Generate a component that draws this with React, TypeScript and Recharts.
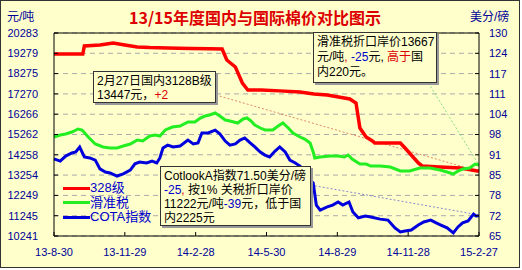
import React from "react";
import { LineChart, Line, XAxis, YAxis, CartesianGrid, ReferenceLine } from "recharts";

// x = days since 2013-8-30
const dayTicks = [0, 91, 182, 273, 364, 455, 546];
const dayLabels = ["13-8-30", "13-11-29", "14-2-28", "14-5-30", "14-8-29", "14-11-28", "15-2-27"];
const leftTicks = [10241, 11245, 12249, 13254, 14258, 15262, 16266, 17270, 18275, 19279, 20283];
const rightTicks = [65, 71.5, 78, 84.5, 91, 97.5, 104, 110.5, 117, 123.5, 130];

const seriesNames = ["328级", "滑准税", "COTA指数"];
const seriesColors = ["#ff0000", "#22ee22", "#0000dd"];

// 328级 (元/吨)
const redDays = [0, 37, 39, 59, 76, 91, 107, 123, 146, 175, 200, 216, 222, 233, 242, 249, 266, 290, 316, 334, 351, 380, 388, 393, 401, 409, 412, 445, 451, 459, 468, 473, 496, 522, 546];
const redPrices = [19244, 19244, 19640, 19689, 19788, 19690, 19590, 19560, 19541, 19520, 19500, 19491, 18947, 18601, 17810, 17463, 17463, 17420, 17364, 17265, 17216, 17018, 16820, 15584, 15138, 14941, 14842, 14842, 14594, 14248, 13852, 13704, 13654, 13605, 13447];

// 滑准税 (元/吨)
const greenDays = [0, 8, 15, 23, 31, 36, 44, 53, 63, 72, 81, 89, 98, 107, 114, 123, 130, 136, 143, 152, 162, 172, 181, 188, 194, 200, 207, 213, 220, 226, 236, 243, 248, 253, 258, 265, 271, 281, 288, 294, 301, 307, 316, 322, 329, 333, 335, 342, 355, 365, 373, 378, 383, 393, 401, 407, 419, 432, 445, 457, 470, 483, 496, 505, 513, 519, 525, 534, 541, 546];
const greenPrices = [15138, 15237, 15287, 15386, 15534, 15485, 15138, 14792, 14643, 14594, 14594, 14693, 14792, 14990, 14941, 15188, 15237, 15188, 15485, 15633, 15682, 15880, 15880, 16078, 16177, 16227, 16325, 16177, 15979, 15930, 15831, 16029, 16078, 15930, 15732, 15583, 15485, 15485, 15682, 15831, 15583, 15336, 15138, 15039, 14841, 14396, 14099, 14149, 14198, 14198, 14149, 14248, 14050, 13802, 13802, 13703, 13703, 13654, 13456, 13456, 13605, 13605, 13506, 13407, 13308, 13456, 13555, 13605, 13802, 13750];

// COTA指数 (美分/磅)
const blueDays = [0, 8, 15, 23, 28, 33, 39, 46, 53, 59, 66, 72, 81, 89, 98, 104, 110, 119, 126, 132, 136, 140, 146, 153, 162, 172, 179, 185, 190, 198, 207, 213, 220, 226, 233, 239, 245, 252, 258, 265, 271, 277, 284, 290, 297, 303, 310, 316, 322, 329, 333, 337, 342, 351, 358, 365, 371, 379, 384, 391, 400, 407, 419, 429, 438, 445, 451, 459, 468, 475, 484, 491, 497, 505, 513, 519, 525, 532, 539, 542, 546];
const blueIndex = [89.7, 89.0, 90.6, 91.6, 91.9, 93.5, 90.3, 90.0, 89.3, 86.5, 85.5, 85.2, 84.2, 84.9, 86.1, 88.1, 88.7, 88.4, 89.0, 88.4, 90.0, 93.2, 94.1, 93.5, 93.8, 95.7, 94.5, 94.8, 98.0, 98.0, 98.9, 97.7, 95.4, 94.1, 94.5, 95.7, 96.4, 94.8, 93.5, 91.9, 90.9, 90.3, 92.2, 93.5, 91.9, 89.3, 88.4, 87.4, 85.5, 82.9, 82.0, 74.9, 73.3, 74.3, 74.9, 75.9, 74.9, 75.9, 72.7, 70.8, 71.4, 71.1, 70.4, 70.1, 67.6, 66.3, 66.6, 66.9, 68.5, 69.5, 70.1, 69.2, 68.5, 67.6, 66.0, 67.9, 69.2, 69.8, 72.0, 71.4, 71.5];

const redData = redDays.map((d, i) => ({ day: d, v: redPrices[i] }));
const greenData = greenDays.map((d, i) => ({ day: d, v: greenPrices[i] }));
const blueData = blueDays.map((d, i) => ({ day: d, v: blueIndex[i] }));

const BG = "#ffffcc";
const AXIS_BLUE = "#000099";
const FONT = "'Liberation Sans', Arial, sans-serif";
const cjk = "'Liberation Sans', 'Noto Sans CJK SC', sans-serif";

// tick labels with the short tick mark drawn inside the plot
const LeftTick = ({ x, y, payload }: any) => (
  <g>
    <line x1={x + 16} x2={x + 20} y1={y} y2={y} stroke="#000" />
    <text x={x} y={y} dy="0.355em" textAnchor="end" fontFamily={FONT} fontSize={11} fill={AXIS_BLUE}>
      {payload.value}
    </text>
  </g>
);

const RightTick = ({ x, y, payload }: any) => (
  <g>
    <line x1={x - 10} x2={x - 14} y1={y} y2={y} stroke="#000" />
    <text x={x} y={y} dy="0.355em" textAnchor="start" fontFamily={FONT} fontSize={11} fill={AXIS_BLUE}>
      {Math.round(payload.value)}
    </text>
  </g>
);

const BottomTick = ({ x, y, payload }: any) => (
  <g>
    <line x1={x} x2={x} y1={y - 12} y2={y - 16} stroke="#000" />
    <text x={x} y={y} dy="0.71em" textAnchor="middle" fontFamily={FONT} fontSize={11} fill={AXIS_BLUE}>
      {dayLabels[dayTicks.indexOf(payload.value)] ?? ""}
    </text>
  </g>
);

const boxStyle: React.CSSProperties = {
  position: "absolute",
  background: BG,
  border: "1px solid #333",
  boxShadow: "2px 2px 0 #999",
  fontFamily: cjk,
  fontSize: 12,
  color: "#000",
  boxSizing: "border-box",
  padding: "2px 3px",
  zIndex: 2,
  whiteSpace: "nowrap",
};

const blue = { color: "#0000cc" };
const red = { color: "#dd0000" };

export default function App() {
  return (
    <div style={{ position: "relative", width: 522, height: 270, background: "#fff" }}>
      <style>{"body{margin:0}"}</style>
      <div style={{ position: "absolute", left: 0, top: 0, width: 520, height: 268, background: BG, border: "1px solid #333", boxSizing: "border-box" }} />

      <div style={{ position: "absolute", left: 0, top: 0 }}>
        <LineChart width={522} height={270} margin={{ top: 33, right: 0, bottom: 0, left: 0 }}>
          <CartesianGrid yAxisId="left" vertical={false} stroke="#aaaaaa" strokeDasharray="5 4" />
          <XAxis
            type="number"
            dataKey="day"
            domain={[0, 546]}
            ticks={dayTicks}
            height={34}
            axisLine={{ stroke: "#000" }}
            tickLine={false}
            tickSize={6}
            tickMargin={6}
            tick={<BottomTick />}
            interval={0}
          />
          <YAxis
            yAxisId="left"
            domain={[10241, 20283]}
            ticks={leftTicks}
            width={54}
            axisLine={{ stroke: "#000" }}
            tickLine={false}
            tickSize={8}
            tickMargin={8}
            tick={<LeftTick />}
            interval={0}
          />
          <YAxis
            yAxisId="right"
            orientation="right"
            domain={[65, 130]}
            ticks={rightTicks}
            width={43}
            axisLine={{ stroke: "#000" }}
            tickLine={false}
            tickSize={5}
            tickMargin={5}
            tick={<RightTick />}
            interval={0}
          />
          <ReferenceLine yAxisId="left" y={20283} stroke="#000" />

          {/* leader lines from the notes */}
          <ReferenceLine yAxisId="left" segment={[{ x: 208, y: 17216 }, { x: 540, y: 13500 }]} stroke="#e08868" strokeDasharray="2 2" />
          <ReferenceLine yAxisId="left" segment={[{ x: 481, y: 17810 }, { x: 546, y: 13750 }]} stroke="#88dd88" strokeDasharray="2 2" />
          <ReferenceLine yAxisId="right" segment={[{ x: 330, y: 81.3 }, { x: 540, y: 72 }]} stroke="#8888cc" strokeDasharray="2 2" />

          <Line yAxisId="left" data={redData} dataKey="v" stroke={seriesColors[0]} strokeWidth={3.5} dot={false} isAnimationActive={false} />
          <Line yAxisId="left" data={greenData} dataKey="v" stroke={seriesColors[1]} strokeWidth={3} dot={false} isAnimationActive={false} />
          <Line yAxisId="right" data={blueData} dataKey="v" stroke={seriesColors[2]} strokeWidth={3} dot={false} isAnimationActive={false} />
        </LineChart>
      </div>

      {/* title and unit labels */}
      <div style={{ position: "absolute", left: 0, width: 510, top: 7, textAlign: "center", fontFamily: "'Noto Sans CJK SC', sans-serif", fontWeight: 700, fontSize: 16, lineHeight: "20px", color: "#dd0000" }}>
        13/15年度国内与国际棉价对比图示
      </div>
      <div style={{ position: "absolute", left: 7, top: 7, fontFamily: cjk, fontSize: 12, color: AXIS_BLUE }}>元/吨</div>
      <div style={{ position: "absolute", left: 470, top: 7, fontFamily: cjk, fontSize: 12, color: AXIS_BLUE }}>美分/磅</div>

      {/* legend */}
      <div style={{ position: "absolute", left: 63, top: 181, zIndex: 1, fontFamily: cjk, fontSize: 13, color: "#0000cc", lineHeight: "14.5px" }}>
        {seriesNames.map((name, i) => (
          <div key={name} style={{ display: "flex", alignItems: "center" }}>
            <span style={{ width: 27, height: 3, background: seriesColors[i], display: "inline-block" }} />
            <span>{name}</span>
          </div>
        ))}
      </div>

      {/* notes */}
      <div style={{ ...boxStyle, left: 93, top: 71, width: 123, height: 32, lineHeight: "14px" }}>
        <div>2月27日国内3128B级</div>
        <div>13447元，<span style={red}>+2</span></div>
      </div>
      <div style={{ ...boxStyle, left: 313, top: 32, width: 124, height: 51, lineHeight: "15px" }}>
        <div>滑准税折口岸价13667</div>
        <div>元/吨<span style={red}>,</span> <span style={blue}>-25</span>元, <span style={red}>高于</span>国</div>
        <div>内220元。</div>
      </div>
      <div style={{ ...boxStyle, left: 160, top: 166, width: 151, height: 60, lineHeight: "14px" }}>
        <div>CotlookA指数71.50美分/磅</div>
        <div><span style={blue}>-25</span><span style={red}>,</span> 按1% 关税折口岸价</div>
        <div>11222元/吨<span style={blue}>-39</span>元，低于国</div>
        <div>内2225元</div>
      </div>
    </div>
  );
}
